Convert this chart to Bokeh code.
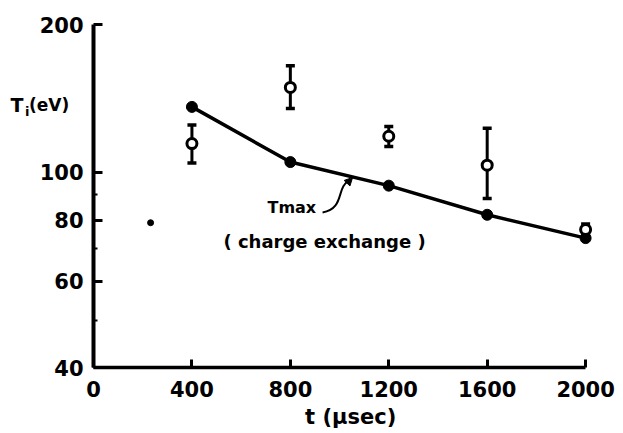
from bokeh.plotting import figure
from bokeh.models import (Range1d, FixedTicker, NumeralTickFormatter, Whisker, TeeHead,
                          ColumnDataSource, Label, Arrow, NormalHead)
from bokeh.embed import file_html
from bokeh.resources import INLINE

# ---- data ----
t_us = [400, 800, 1200, 1600, 2000]
tmax_cx = [136, 105, 94, 82, 73.5]          # T_max (charge exchange), line
ti_meas = [114.5, 149, 118.5, 103.5, 76.5]  # measured T_i, open circles
ti_upper = [125, 165, 124, 123, 78.5]
ti_lower = [104.5, 135, 113, 88.5, 74.5]
stray_t = [232]
stray_ti = [79]

x_ticks = [0, 400, 800, 1200, 1600, 2000]
y_ticks = [40, 60, 80, 100, 200]
y_minor = [50, 70, 90]

FONT = "DejaVu Sans"

p = figure(frame_width=623, frame_height=433,
           min_border_left=0, min_border_right=0, min_border_top=0, min_border_bottom=0,
           x_range=Range1d(-378, 2154), y_range=Range1d(29.4, 224.0), y_axis_type="log",
           output_backend="svg", toolbar_location=None,
           background_fill_color="white", border_fill_color="white")
p.outline_line_color = None
p.grid.visible = False

# axes, placed inside the frame at x=0 and y=40
xa = p.xaxis[0]
ya = p.yaxis[0]
xa.fixed_location = 40
ya.fixed_location = 0
xa.bounds = (0, 2000)
ya.bounds = (40, 200)

xa.ticker = FixedTicker(ticks=x_ticks)
xa.axis_line_width = 3.5
xa.major_tick_in = 8
xa.major_tick_out = 0
xa.major_tick_line_width = 3
xa.minor_tick_line_color = None
xa.major_label_standoff = 13
xa.major_label_text_font = FONT
xa.major_label_text_font_style = "bold"
xa.major_label_text_font_size = "21px"
xa.major_label_text_color = "black"

ya.ticker = FixedTicker(ticks=y_ticks, minor_ticks=y_minor)
ya.formatter = NumeralTickFormatter(format="0")
ya.axis_line_width = 4
ya.major_tick_in = 9
ya.major_tick_out = 0
ya.major_tick_line_width = 3
ya.minor_tick_in = 4
ya.minor_tick_out = 0
ya.minor_tick_line_width = 2
ya.major_label_standoff = 10
ya.major_label_text_font = FONT
ya.major_label_text_font_style = "bold"
ya.major_label_text_font_size = "21px"
ya.major_label_text_color = "black"

# charge-exchange curve
p.line(t_us, tmax_cx, line_color="black", line_width=3.5)
p.scatter(t_us, tmax_cx, size=11, fill_color="black", line_color="black")

# measured points with error bars
src = ColumnDataSource(dict(t=t_us, ti=ti_meas, up=ti_upper, lo=ti_lower))
w = Whisker(source=src, base="t", upper="up", lower="lo", dimension="height",
            line_width=3, line_color="black",
            upper_head=TeeHead(size=9, line_width=3.5, line_color="black"),
            lower_head=TeeHead(size=9, line_width=3.5, line_color="black"))
p.add_layout(w)
p.scatter("t", "ti", source=src, size=10, fill_color="white", line_color="black", line_width=3)

# stray dot
p.scatter(stray_t, stray_ti, size=6, fill_color="black", line_color="black")

# annotation T_max (charge exchange) with curved arrow
p.add_layout(Label(x=707, y=84.9, text="Tmax", text_font=FONT, text_font_style="bold",
                   text_font_size="16px", text_baseline="middle", text_color="black"))
p.add_layout(Label(x=528, y=72.4, text="( charge exchange )", text_font=FONT,
                   text_font_style="bold", text_font_size="18px", text_baseline="middle",
                   text_color="black"))
p.bezier(x0=[931], y0=[82.9], x1=[1041], y1=[96.3], cx0=[1024], cy0=[84.5],
         cx1=[984], cy1=[93.6], line_color="black", line_width=2)
p.add_layout(Arrow(x_start=1041, y_start=96.3, x_end=1053, y_end=97.7, line_width=2,
                   end=NormalHead(size=8, fill_color="black", line_color="black")))

# axis titles
p.add_layout(Label(x=-337, y=137.2, text="T", text_font=FONT, text_font_style="bold",
                   text_font_size="19px", text_baseline="middle", text_color="black"))
p.add_layout(Label(x=-278, y=133.1, text="i", text_font=FONT, text_font_style="bold",
                   text_font_size="13px", text_baseline="middle", text_color="black"))
p.add_layout(Label(x=-262, y=136.9, text="(eV)", text_font=FONT, text_font_style="bold",
                   text_font_size="17px", text_baseline="middle", text_color="black"))
p.add_layout(Label(x=1045, y=31.7, text="t (μsec)", text_font=FONT, text_font_style="bold",
                   text_font_size="21px", text_baseline="middle", text_align="center",
                   text_color="black"))

open("out.html", "w").write(file_html(p, INLINE))
